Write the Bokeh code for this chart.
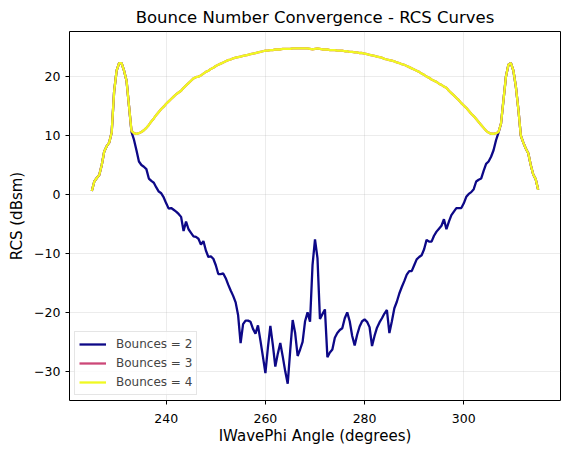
from bokeh.embed import file_html
from bokeh.resources import INLINE
from bokeh.plotting import figure
from bokeh.layouts import row
from bokeh.models import Range1d, FixedTicker, CustomJSTickFormatter, Spacer

# sampling grid of the sweep, 0.5 degree steps from 225 to 315
angles = [225 + 0.5 * i for i in range(181)]

rcs_b2 = [
    0.6, 2.2, 2.8, 3.3, 5.0, 7.3, 8.2, 8.8, 10.5, 17.5,
    21.0, 22.3, 22.3, 21.0, 19.3, 15.0, 10.6, 9.3, 7.5, 5.6,
    5.0, 4.7, 4.3, 2.7, 2.3, 2.0, 1.2, 0.5, 0.2, -0.5,
    -1.5, -2.4, -2.3, -2.6, -2.9, -3.3, -3.8, -6.2, -4.6, -5.9,
    -6.5, -7.1, -7.2, -7.5, -8.5, -7.9, -9.5, -10.6, -10.5, -10.9,
    -12.0, -13.5, -13.5, -13.4, -14.2, -15.3, -16.3, -17.2, -18.3, -20.5,
    -25.2, -22.0, -21.4, -21.4, -21.6, -22.8, -23.6, -22.2, -24.8, -27.5,
    -30.3, -26.0, -22.3, -25.5, -29.2, -27.0, -25.2, -27.5, -30.0, -32.1,
    -26.5, -21.3, -23.5, -27.4, -26.3, -25.0, -21.5, -20.0, -21.6, -12.0,
    -7.6, -10.8, -21.1, -20.3, -19.5, -27.6, -26.8, -26.3, -24.3, -23.5,
    -23.0, -22.7, -21.0, -20.0, -21.5, -24.0, -25.6, -23.8, -22.4, -21.5,
    -21.2, -21.6, -22.5, -25.7, -24.0, -22.6, -21.7, -21.0, -20.2, -19.6,
    -23.5, -21.5, -19.3, -18.2, -16.8, -15.7, -14.7, -13.6, -13.0, -13.0,
    -12.0, -11.0, -10.6, -10.3, -9.3, -7.7, -8.0, -8.0, -7.0, -6.3,
    -5.8, -5.3, -4.2, -5.9, -4.6, -3.5, -2.9, -2.3, -2.3, -2.3,
    -1.5, -0.4, 0.1, 0.4, 0.9, 2.2, 2.5, 2.7, 4.0, 5.2,
    5.6, 6.4, 7.5, 9.2, 10.5, 12.0, 16.0, 20.0, 22.0, 22.3,
    21.0, 18.3, 14.5, 10.0, 8.8, 7.8, 7.0, 5.0, 3.4, 2.6,
    0.8,
]

rcs_b3 = [
    0.6, 2.2, 2.8, 3.3, 5.0, 7.3, 8.2, 8.8, 10.5, 17.5,
    21.0, 22.3, 22.3, 21.0, 19.3, 15.0, 10.8, 10.4, 10.3, 10.4,
    10.6, 10.9, 11.3, 11.8, 12.4, 12.9, 13.5, 14.0, 14.5, 14.9,
    15.4, 15.8, 16.2, 16.6, 17.0, 17.3, 17.6, 18.1, 18.5, 18.9,
    19.3, 19.7, 19.9, 20.0, 20.2, 20.5, 20.8, 21.0, 21.3, 21.5,
    21.8, 22.0, 22.2, 22.4, 22.6, 22.8, 22.9, 23.1, 23.2, 23.3,
    23.4, 23.5, 23.6, 23.7, 23.8, 23.9, 24.0, 24.1, 24.2, 24.3,
    24.4, 24.4, 24.5, 24.5, 24.6, 24.6, 24.6, 24.7, 24.7, 24.7,
    24.7, 24.8, 24.8, 24.8, 24.8, 24.8, 24.8, 24.8, 24.7, 24.6,
    24.7, 24.8, 24.7, 24.6, 24.6, 24.6, 24.5, 24.5, 24.5, 24.4,
    24.4, 24.4, 24.3, 24.3, 24.2, 24.2, 24.1, 24.1, 24.0, 24.0,
    23.9, 23.8, 23.7, 23.6, 23.5, 23.4, 23.3, 23.2, 23.0, 22.9,
    22.8, 22.7, 22.6, 22.4, 22.3, 22.1, 22.0, 21.8, 21.6, 21.4,
    21.2, 21.0, 20.8, 20.5, 20.3, 20.0, 19.8, 19.5, 19.3, 19.1,
    18.8, 18.6, 18.3, 18.1, 17.6, 17.2, 16.8, 16.4, 16.0, 15.5,
    15.1, 14.7, 14.2, 13.7, 13.3, 12.8, 12.3, 11.8, 11.3, 10.8,
    10.5, 10.3, 10.3, 10.4, 10.6, 12.0, 16.0, 20.0, 22.0, 22.3,
    21.0, 18.3, 14.5, 10.0, 8.8, 7.8, 7.0, 5.0, 3.4, 2.6,
    0.8,
]

# 4 bounces gives the same curve as 3 (converged)
rcs_b4 = list(rcs_b3)

series_labels = ["Bounces = 2", "Bounces = 3", "Bounces = 4"]
series_colors = ["#0d0887", "#cc4778", "#f0f921"]
x_ticks = [240, 260, 280, 300]
y_ticks = [-30, -20, -10, 0, 10, 20]

FONT = "DejaVu Sans"

p = figure(
    frame_width=491, frame_height=369,
    x_range=Range1d(220.5, 319.5), y_range=Range1d(-34.95, 27.65),
    title="Bounce Number Convergence - RCS Curves",
    output_backend="svg", toolbar_location=None,
    min_border_right=6, min_border_top=25,
)

for ys, lab, col in zip([rcs_b2, rcs_b3, rcs_b4], series_labels, series_colors):
    p.line(angles, ys, line_color=col, line_width=2.3, legend_label=lab)

p.title.text_font = FONT
p.title.text_font_size = "16.5px"
p.title.text_font_style = "normal"
p.title.align = "center"
p.title.text_color = "black"

p.xaxis.axis_label = "IWavePhi Angle (degrees)"
p.yaxis.axis_label = "RCS (dBsm)"
p.xaxis.ticker = FixedTicker(ticks=x_ticks)
p.yaxis.ticker = FixedTicker(ticks=y_ticks)
p.yaxis.formatter = CustomJSTickFormatter(code="return tick.toString().replace('-', '\u2212');")

for ax in p.axis:
    ax.axis_label_text_font = FONT
    ax.axis_label_text_font_size = "15px"
    ax.axis_label_text_font_style = "normal"
    ax.axis_label_text_color = "black"
    ax.major_label_text_font = FONT
    ax.major_label_text_font_size = "12.5px"
    ax.major_label_text_color = "black"
    ax.axis_line_color = None
    ax.major_tick_in = 0
    ax.major_tick_out = 4
    ax.major_tick_line_color = "black"
    ax.minor_tick_line_color = None

p.xaxis.major_label_standoff = 9
p.xaxis.axis_label_standoff = 1
p.yaxis.major_label_standoff = 5
p.yaxis.axis_label_standoff = 5

p.xgrid.ticker = FixedTicker(ticks=x_ticks)
p.ygrid.ticker = FixedTicker(ticks=y_ticks)
p.grid.grid_line_color = "#b0b0b0"
p.grid.grid_line_alpha = 0.3
p.grid.grid_line_width = 0.8

p.outline_line_color = "black"
p.outline_line_alpha = 1
p.outline_line_width = 1

p.legend.location = "bottom_left"
p.legend.margin = 5
p.legend.padding = 4
p.legend.spacing = 3
p.legend.glyph_width = 27
p.legend.glyph_height = 16
p.legend.label_height = 16
p.legend.label_standoff = 10
p.legend.label_text_font = FONT
p.legend.label_text_font_size = "12px"
p.legend.border_line_color = "#cccccc"
p.legend.background_fill_alpha = 0.8

# push the frame so its left edge sits where the reference has it
page = row(Spacer(width=5), p)

open("out.html", "w").write(file_html(page, INLINE))
